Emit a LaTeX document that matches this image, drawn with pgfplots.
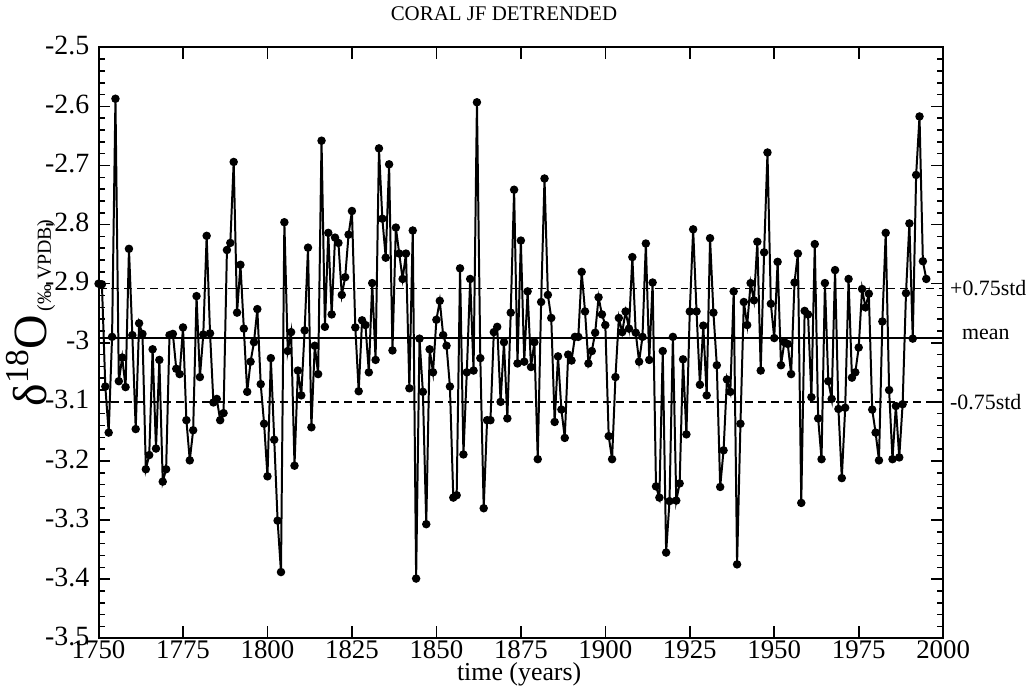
\documentclass[border=0pt]{standalone}
\usepackage{fontspec}
\setmainfont{Liberation Serif}
\usepackage{pgfplots}
\pgfplotsset{compat=1.18}
\usetikzlibrary{calc}

% detrended JF coral d18O, one value per year
\pgfplotstableread{
year d18o
1750 -2.900
1751 -2.901
1752 -3.074
1753 -3.152
1754 -2.990
1755 -2.587
1756 -3.065
1757 -3.025
1758 -3.075
1759 -2.841
1760 -2.987
1761 -3.146
1762 -2.967
1763 -2.985
1764 -3.214
1765 -3.190
1766 -3.011
1767 -3.179
1768 -3.029
1769 -3.235
1770 -3.214
1771 -2.987
1772 -2.985
1773 -3.044
1774 -3.053
1775 -2.974
1776 -3.131
1777 -3.199
1778 -3.148
1779 -2.921
1780 -3.058
1781 -2.986
1782 -2.819
1783 -2.984
1784 -3.101
1785 -3.095
1786 -3.131
1787 -3.119
1788 -2.843
1789 -2.831
1790 -2.694
1791 -2.949
1792 -2.868
1793 -2.976
1794 -3.083
1795 -3.032
1796 -2.999
1797 -2.943
1798 -3.070
1799 -3.137
1800 -3.226
1801 -3.026
1802 -3.164
1803 -3.301
1804 -3.388
1805 -2.796
1806 -3.014
1807 -2.982
1808 -3.208
1809 -3.047
1810 -3.089
1811 -2.979
1812 -2.839
1813 -3.143
1814 -3.005
1815 -3.053
1816 -2.658
1817 -2.973
1818 -2.814
1819 -2.952
1820 -2.822
1821 -2.831
1822 -2.919
1823 -2.889
1824 -2.817
1825 -2.777
1826 -2.974
1827 -3.082
1828 -2.962
1829 -2.970
1830 -3.050
1831 -2.899
1832 -3.029
1833 -2.671
1834 -2.790
1835 -2.856
1836 -2.698
1837 -3.013
1838 -2.805
1839 -2.849
1840 -2.892
1841 -2.849
1842 -3.077
1843 -2.810
1844 -3.399
1845 -2.993
1846 -3.083
1847 -3.307
1848 -3.011
1849 -3.050
1850 -2.961
1851 -2.929
1852 -2.987
1853 -3.005
1854 -3.074
1855 -3.262
1856 -3.258
1857 -2.874
1858 -3.189
1859 -3.050
1860 -2.892
1861 -3.047
1862 -2.593
1863 -3.026
1864 -3.280
1865 -3.131
1866 -3.131
1867 -2.982
1868 -2.973
1869 -3.100
1870 -2.999
1871 -3.128
1872 -2.949
1873 -2.741
1874 -3.035
1875 -2.827
1876 -3.032
1877 -2.913
1878 -3.041
1879 -2.999
1880 -3.197
1881 -2.931
1882 -2.722
1883 -2.919
1884 -2.958
1885 -3.134
1886 -3.023
1887 -3.113
1888 -3.161
1889 -3.020
1890 -3.030
1891 -2.990
1892 -2.990
1893 -2.880
1894 -2.947
1895 -3.035
1896 -3.014
1897 -2.983
1898 -2.923
1899 -2.952
1900 -2.970
1901 -3.158
1902 -3.197
1903 -3.058
1904 -2.958
1905 -2.982
1906 -2.947
1907 -2.976
1908 -2.855
1909 -2.983
1910 -3.032
1911 -2.990
1912 -2.832
1913 -3.029
1914 -2.898
1915 -3.243
1916 -3.262
1917 -3.014
1918 -3.355
1919 -3.268
1920 -2.990
1921 -3.267
1922 -3.238
1923 -3.028
1924 -3.155
1925 -2.947
1926 -2.808
1927 -2.947
1928 -3.071
1929 -2.971
1930 -3.089
1931 -2.823
1932 -2.949
1933 -3.038
1934 -3.244
1935 -3.182
1936 -3.062
1937 -3.083
1938 -2.913
1939 -3.375
1940 -3.137
1941 -2.931
1942 -2.970
1943 -2.899
1944 -2.928
1945 -2.829
1946 -3.047
1947 -2.847
1948 -2.678
1949 -2.934
1950 -2.992
1951 -2.863
1952 -3.038
1953 -2.999
1954 -3.002
1955 -3.053
1956 -2.898
1957 -2.849
1958 -3.271
1959 -2.946
1960 -2.952
1961 -3.092
1962 -2.833
1963 -3.128
1964 -3.197
1965 -2.899
1966 -3.065
1967 -3.095
1968 -2.877
1969 -3.112
1970 -3.229
1971 -3.110
1972 -2.892
1973 -3.059
1974 -3.050
1975 -3.008
1976 -2.909
1977 -2.940
1978 -2.917
1979 -3.113
1980 -3.152
1981 -3.199
1982 -2.964
1983 -2.814
1984 -3.080
1985 -3.197
1986 -3.107
1987 -3.194
1988 -3.104
1989 -2.916
1990 -2.798
1991 -2.993
1992 -2.716
1993 -2.617
1994 -2.862
1995 -2.892
}\coral

\begin{document}
\begin{tikzpicture}
\begin{axis}[
    name=ax,
    scale only axis,
    width=424.5pt, height=297pt,
    xmin=1750, xmax=2000,
    ymin=-3.5, ymax=-2.5,
    xtick={1750,1775,1800,1825,1850,1875,1900,1925,1950,1975,2000},
    ytick={-3.5,-3.4,-3.3,-3.2,-3.1,-3,-2.9,-2.8,-2.7,-2.6,-2.5},
    minor y tick num=4,
    tick align=inside,
    major tick length=6pt,
    minor tick length=3pt,
    every tick/.style={black, line width=0.8pt},
    axis line style={line width=1pt},
    /pgf/number format/assume math mode=true,
    tick label style={font=\fontsize{14}{14}\selectfont, inner sep=1pt},
    x tick label style={/pgf/number format/1000 sep={}, yshift=0pt,
        font=\fontsize{13.5}{13.5}\selectfont},
    yticklabel style={xshift=-3.5pt, yshift=1pt},
    xlabel={time (years)},
    xlabel style={at={(axis description cs:0.498,0)}, anchor=base, inner sep=1pt,
        yshift=-21pt, font=\fontsize{13}{13}\selectfont},
    clip=false,
]
\addplot[black, line width=1pt, mark=*, mark size=1.6pt] table[x=year, y=d18o] {\coral};

% mean and +-0.75 std lines
\addplot[black, line width=0.9pt] coordinates {(1750,-2.992) (2000,-2.992)};
\addplot[black, line width=0.9pt, dash pattern=on 4pt off 2.5pt] coordinates {(1750,-2.908) (2000,-2.908)};
\addplot[black, line width=0.9pt, dash pattern=on 4pt off 2.5pt] coordinates {(1750,-3.100) (2000,-3.100)};

\node[anchor=west, font=\fontsize{11}{11}\selectfont] at (axis cs:2000,-2.908) {+0.75std};
\node[anchor=west, font=\fontsize{11}{11}\selectfont, xshift=6pt, yshift=2pt] at (axis cs:2000,-2.992) {mean};
\node[anchor=west, font=\fontsize{11}{11}\selectfont] at (axis cs:2000,-3.100) {-0.75std};

\node[anchor=base, font=\fontsize{10.5}{10.5}\selectfont] at ([yshift=13.5pt]axis description cs:0.48,1) {CORAL JF DETRENDED};

\node[rotate=90, anchor=base] at ([xshift=-26pt]axis description cs:0,0.55)
    {{\fontsize{24}{24}\selectfont δ\textsuperscript{18}O}\,\raisebox{-2pt}{\fontsize{10}{10}\selectfont(‰ VPDB)}};
\end{axis}
\path ($(ax.south west)+(-48.5pt,-23pt)$) rectangle ($(ax.north east)+(43.5pt,23.5pt)$);
\end{tikzpicture}
\end{document}
